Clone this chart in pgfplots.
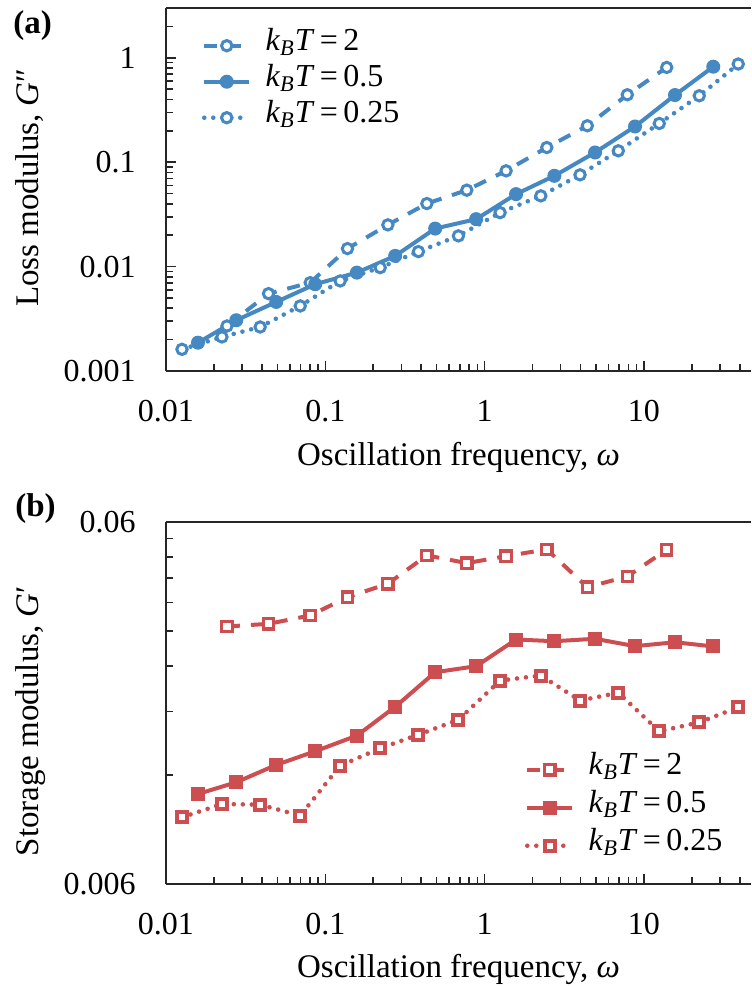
\documentclass[border=0pt]{standalone}
\usepackage{fontspec}
\setmainfont{Liberation Serif}
\usepackage{pgfplots}
\pgfplotsset{compat=1.18}
\definecolor{cblue}{RGB}{70,137,194}
\definecolor{cred}{RGB}{204,78,80}
\newcommand{\fs}{\fontsize{16}{19}\selectfont}
\newcommand{\fl}{\fontsize{16.5}{20}\selectfont}
\newcommand{\kbt}[1]{\textit{k}\textsubscript{\textit{B}}\textit{T}\,=\,#1}

\pgfplotstableread{
w g
0.02414 0.00270
0.04401 0.00551
0.08039 0.00702
0.1378 0.01488
0.2470 0.02511
0.4340 0.04018
0.7731 0.05400
1.364 0.08270
2.456 0.1383
4.414 0.2234
7.868 0.4428
13.90 0.8091
}\lossA
\pgfplotstableread{
w g
0.01588 0.001868
0.02761 0.003063
0.04920 0.004587
0.08643 0.006782
0.1578 0.008760
0.2745 0.01267
0.4894 0.02314
0.8846 0.02849
1.576 0.04946
2.741 0.07406
4.934 0.1239
8.795 0.2199
15.67 0.4399
27.25 0.8216
}\lossB
\pgfplotstableread{
w g
0.0126 0.001614
0.02245 0.00212
0.0390 0.00264
0.0696 0.00420
0.1240 0.00729
0.2211 0.00978
0.3843 0.01393
0.6848 0.0197
1.251 0.0329
2.253 0.0476
3.972 0.0757
6.909 0.1286
12.49 0.235
22.26 0.433
39.10 0.872
}\lossC
\pgfplotstableread{
w g
0.02414 0.03087
0.04401 0.03140
0.08039 0.03311
0.1378 0.03721
0.2470 0.04052
0.4340 0.04852
0.7731 0.04620
1.364 0.04830
2.456 0.05041
4.414 0.03964
7.868 0.04243
13.90 0.05031
}\storA
\pgfplotstableread{
w g
0.01588 0.01064
0.02761 0.01146
0.04920 0.01280
0.08643 0.01396
0.1578 0.01542
0.2745 0.01852
0.4894 0.02308
0.8846 0.02398
1.576 0.02842
2.741 0.02811
4.934 0.02855
8.795 0.02724
15.67 0.02793
27.25 0.02719
}\storB
\pgfplotstableread{
w g
0.0126 0.00917
0.02245 0.00998
0.0390 0.00994
0.0696 0.00927
0.1240 0.01274
0.2211 0.01423
0.3843 0.01551
0.6848 0.01706
1.251 0.02189
2.253 0.02260
3.972 0.01928
6.909 0.02025
12.49 0.01585
22.26 0.01678
39.10 0.01847
}\storC

\tikzset{
  dashedS/.style={line width=2pt, dash pattern=on 6.5pt off 5.5pt},
  solidS/.style={line width=2pt},
  dottedS/.style={line width=2.3pt, line cap=round, dash pattern=on 0pt off 4.5pt},
}

\begin{document}
\begin{tikzpicture}
\begin{axis}[at={(83pt,-185.5pt)}, anchor=south west,
  scale only axis, width=292.5pt, height=181.5pt,
  xmode=log, ymode=log, xmin=0.01, xmax=47, ymin=0.001, ymax=3,
  separate axis lines, axis x line*=box, axis y line*=left,
  xtick pos=left, ytick pos=left, tick align=inside,
  major tick length=5pt, minor tick length=3.5pt,
  tick style={line width=0.8pt, black!85},
  axis line style={line width=1pt, black!85},
  xtick={0.01,0.1,1,10}, xticklabels={0.01,0.1,1,10},
  minor xtick={0.02,0.03,0.04,0.05,0.06,0.07,0.08,0.09,0.2,0.3,0.4,0.5,0.6,0.7,0.8,0.9,2,3,4,5,6,7,8,9,20,30,40},
  ytick={0.001,0.01,0.1,1}, yticklabels={0.001,0.01,0.1,1},
  minor ytick={0.002,0.003,0.004,0.005,0.006,0.007,0.008,0.009,0.02,0.03,0.04,0.05,0.06,0.07,0.08,0.09,0.2,0.3,0.4,0.5,0.6,0.7,0.8,0.9,2,3},
  label style={font=\fl}, tick label style={font=\fs},
  xticklabel style={anchor=base, yshift=-25pt, inner sep=0pt},
  yticklabel style={anchor=east, xshift=-15pt, inner sep=0pt},
  xlabel={Oscillation frequency, \textit{ω}},
  x label style={at={(axis description cs:0.5,-0.259)}, anchor=base},
  ylabel={Loss modulus, \textit{G}″},
  y label style={at={(axis description cs:-0.2183,0.505)}, rotate=0, anchor=base},
  legend cell align=left,
  legend style={draw=none, fill=none, inner sep=0pt, outer sep=0pt, font=\fs,
      at={(axis description cs:0.0615,0.9457)}, anchor=north west,
      nodes={inner sep=0pt, text height=11.5pt, text depth=6.5pt}},
  legend image code/.code={
      \draw[mark repeat=2, mark phase=2, #1] plot coordinates {(0pt,0pt) (11.25pt,0pt) (22.5pt,0pt)};
      \path (29.5pt,0pt);
  },
]
\addplot[cblue, dashedS, mark=*, mark size=2.6pt, mark options={solid, fill=white, line width=1.5pt}] table[x=w,y=g] {\lossA};
\addlegendentry{\kbt{2}}
\addplot[cblue, solidS, mark=*, mark size=3pt, mark options={solid, fill=cblue, line width=1pt}] table[x=w,y=g] {\lossB};
\addlegendentry{\kbt{0.5}}
\addplot[cblue, dottedS, mark=*, mark size=2.6pt, mark options={solid, fill=white, line width=1.5pt}] table[x=w,y=g] {\lossC};
\addlegendentry{\kbt{0.25}}
\end{axis}

\begin{axis}[at={(83pt,-442pt)}, anchor=south west,
  scale only axis, width=292.5pt, height=181pt,
  xmode=log, ymode=log, xmin=0.01, xmax=47, ymin=0.006, ymax=0.06,
  separate axis lines, axis x line*=box, axis y line*=left,
  xtick pos=left, ytick pos=left, tick align=inside,
  major tick length=5pt, minor tick length=3.5pt,
  tick style={line width=0.8pt, black!85},
  axis line style={line width=1pt, black!85},
  xtick={0.01,0.1,1,10}, xticklabels={0.01,0.1,1,10},
  minor xtick={0.02,0.03,0.04,0.05,0.06,0.07,0.08,0.09,0.2,0.3,0.4,0.5,0.6,0.7,0.8,0.9,2,3,4,5,6,7,8,9,20,30,40},
  ytick={0.006,0.06}, yticklabels={0.006,0.06},
  minor ytick={0.012,0.018,0.024,0.03,0.036,0.042,0.048,0.054},
  label style={font=\fl}, tick label style={font=\fs},
  xticklabel style={anchor=base, yshift=-25pt, inner sep=0pt},
  yticklabel style={anchor=east, xshift=-15pt, inner sep=0pt},
  xlabel={Oscillation frequency, \textit{ω}},
  x label style={at={(axis description cs:0.5,-0.259)}, anchor=base},
  ylabel={Storage modulus, \textit{G}′},
  y label style={at={(axis description cs:-0.2188,0.450)}, rotate=0, anchor=base},
  legend cell align=left,
  legend style={draw=none, fill=none, inner sep=0pt, outer sep=0pt, font=\fs,
      at={(axis description cs:0.6137,0.0533)}, anchor=south west,
      nodes={inner sep=0pt, text height=12pt, text depth=7pt}},
  legend image code/.code={
      \draw[mark repeat=2, mark phase=2, #1] plot coordinates {(0pt,0pt) (11.25pt,0pt) (22.5pt,0pt)};
      \path (29.5pt,0pt);
  },
]
\addplot[cred, dashedS, mark=square*, mark size=2.6pt, mark options={solid, fill=white, line width=1.6pt}] table[x=w,y=g] {\storA};
\addlegendentry{\kbt{2}}
\addplot[cred, solidS, mark=square*, mark size=3pt, mark options={solid, fill=cred, line width=1pt}] table[x=w,y=g] {\storB};
\addlegendentry{\kbt{0.5}}
\addplot[cred, dottedS, mark=square*, mark size=2.5pt, mark options={solid, fill=white, line width=2pt}] table[x=w,y=g] {\storC};
\addlegendentry{\kbt{0.25}}
\end{axis}

\node[anchor=north west, inner sep=0pt, font=\bfseries\fl] at (6.5pt,-5pt) {(a)};
\node[anchor=north west, inner sep=0pt, font=\bfseries\fl] at (7.5pt,-246.5pt) {(b)};

\pgfresetboundingbox
\useasboundingbox (0,0) rectangle (375.5pt,-493pt);
\end{tikzpicture}
\end{document}
